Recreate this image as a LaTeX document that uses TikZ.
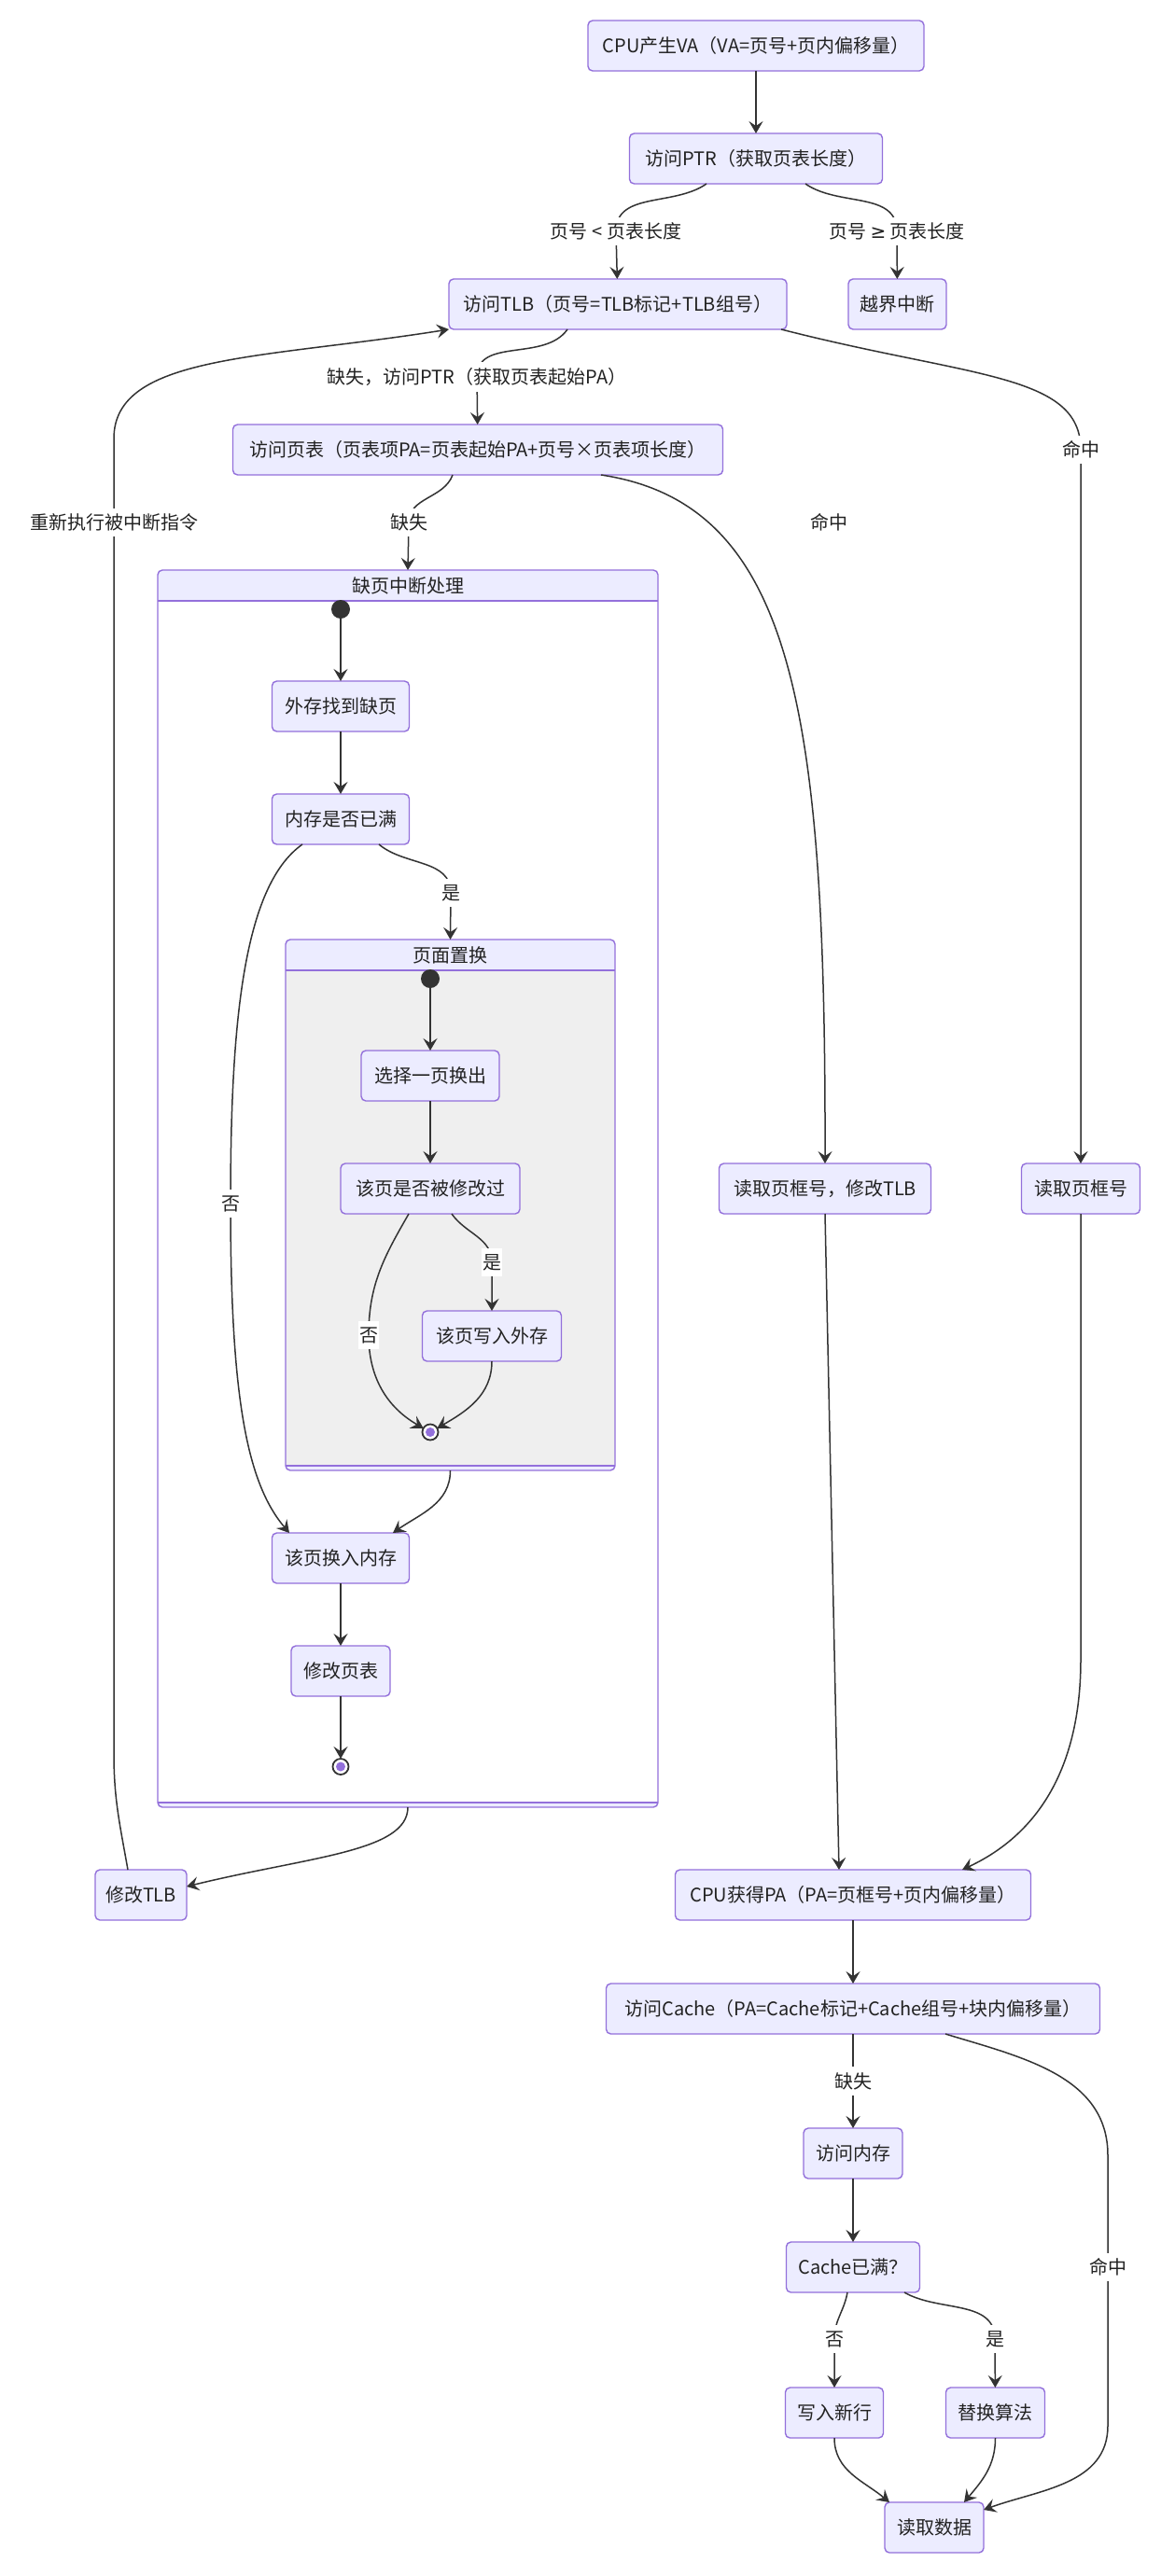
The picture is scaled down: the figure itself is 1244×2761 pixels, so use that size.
\documentclass[tikz,border=0pt]{standalone}
\usepackage{fontspec}
\setmainfont{Noto Sans CJK SC}
\newfontfamily\symfont{DejaVu Sans}
\usepackage{tikz}
\usetikzlibrary{arrows.meta, positioning, calc}
\definecolor{mmfill}{HTML}{ECECFF}
\definecolor{mmline}{HTML}{9370DB}
\definecolor{mmedge}{HTML}{333333}
\definecolor{mmgray}{HTML}{EFEFEF}
\definecolor{mmtext}{HTML}{222222}

\begin{document}
\begin{tikzpicture}[
    x=1pt, y=1pt,
    node distance=67pt and 67pt,
    font=\fontsize{20}{24}\selectfont,
    stbox/.style={rectangle, rounded corners=5pt, draw=mmline, line width=1.4pt, fill=mmfill,
                  text=mmtext, minimum height=54pt, inner xsep=3pt, inner ysep=0pt, outer sep=0pt},
    cluster/.style={rectangle, rounded corners=5pt, inner sep=0pt, outer sep=0pt},
    clline/.style={draw=mmline, line width=1.4pt},
    cltitle/.style={text=mmtext, inner sep=0pt},
    startst/.style={circle, fill=mmedge, minimum size=20pt, inner sep=0pt, outer sep=0pt},
    endst/.style={circle, draw=mmedge, line width=1.8pt, fill=white, minimum size=17pt,
                  inner sep=0pt, outer sep=0pt,
                  path picture={\fill[mmline] (path picture bounding box.center) circle (5pt);}},
    flow/.style={-{Stealth[length=13pt, width=15pt, inset=5pt]}, line width=1.5pt, mmedge},
    lbl/.style={fill=white, text=mmtext, inner xsep=1pt, inner ysep=6pt},
]
    \path[use as bounding box, fill=white] (0,0) rectangle (1244,-2761);

    % composite state: 缺页中断处理
    \node[cluster, fill=white, minimum width=536pt, minimum height=1326pt] (pfh) at (437,-1274) {};
    \begin{scope}
        \clip[rounded corners=5pt] (pfh.north west) rectangle (pfh.south east);
        \fill[mmfill] (pfh.north west) rectangle ([yshift=-33pt]pfh.north east);
        \fill[mmfill] ([yshift=5pt]pfh.south west) rectangle (pfh.south east);
    \end{scope}
    \draw[clline, rounded corners=5pt] (pfh.north west) rectangle (pfh.south east);
    \draw[clline] ([yshift=-33pt]pfh.north west) -- ([yshift=-33pt]pfh.north east);
    \draw[clline] ([yshift=5pt]pfh.south west) -- ([yshift=5pt]pfh.south east);
    \node[cltitle] (pfht) at ([yshift=-16.5pt]pfh.north) {缺页中断处理};

    % nested composite state: 页面置换
    \node[cluster, fill=mmgray, minimum width=353pt, minimum height=569pt] (repl) at (482.5,-1291.5) {};
    \begin{scope}
        \clip[rounded corners=5pt] (repl.north west) rectangle (repl.south east);
        \fill[mmfill] (repl.north west) rectangle ([yshift=-33pt]repl.north east);
        \fill[mmfill] ([yshift=5pt]repl.south west) rectangle (repl.south east);
    \end{scope}
    \draw[clline, rounded corners=5pt] (repl.north west) rectangle (repl.south east);
    \draw[clline] ([yshift=-33pt]repl.north west) -- ([yshift=-33pt]repl.north east);
    \draw[clline] ([yshift=5pt]repl.south west) -- ([yshift=5pt]repl.south east);
    \node[cltitle] (replt) at ([yshift=-16.5pt]repl.north) {页面置换};

    % address translation
    \node[stbox, minimum width=360pt] (cpu) at (810,-49) {CPU产生VA（VA=页号+页内偏移量）};
    \node[stbox, minimum width=271pt, below=of cpu] (ptr) {访问PTR（获取页表长度）};
    \node[stbox, minimum width=362pt] (tlb) at (662,-326) {访问TLB（页号=TLB标记+TLB组号）};
    \node[stbox, minimum width=105pt, right=66pt of tlb] (oob) {越界中断};
    \node[stbox, minimum width=525pt] (pt) at (512,-482) {访问页表（页表项PA=页表起始PA+页号×页表项长度）};

    % page fault handling
    \node[startst] (s1) at (365,-653) {};
    \node[stbox, minimum width=147pt, below=of s1] (find) {外存找到缺页};
    \node[stbox, minimum width=147pt, below=of find] (full) {内存是否已满};
    \node[startst] (s2) at (461,-1049) {};
    \node[stbox, minimum width=148pt, below=of s2] (pick) {选择一页换出};
    \node[stbox, minimum width=192pt, below=of pick] (dirty) {该页是否被修改过};
    \node[stbox, minimum width=149pt] (wb) at (527,-1432) {该页写入外存};
    \node[endst] (e2) at (461,-1535) {};
    \node[stbox, minimum width=147pt] (load) at (365,-1670) {该页换入内存};
    \node[stbox, minimum width=106pt, below=of load] (upd) {修改页表};
    \node[endst, below=of upd] (e1) {};
    \node[stbox, minimum width=98pt] (mtlb) at (151,-2031) {修改TLB};

    % frame number and cache
    \node[stbox, minimum width=227pt] (frtlb) at (884,-1274) {读取页框号，修改TLB};
    \node[stbox, minimum width=127pt, right=97pt of frtlb] (fr) {读取页框号};
    \node[stbox, minimum width=381pt] (pa) at (914,-2031) {CPU获得PA（PA=页框号+页内偏移量）};
    \node[stbox, minimum width=529pt, below=68pt of pa] (cache) {访问Cache（PA=Cache标记+Cache组号+块内偏移量）};
    \node[stbox, minimum width=106pt, below=101pt of cache] (mem) {访问内存};
    \node[stbox, minimum width=143pt, below=68pt of mem] (cfull) {Cache已满？};
    \node[stbox, minimum width=105pt] (wnew) at (894,-2586) {写入新行};
    \node[stbox, minimum width=106pt, right=67pt of wnew] (rep) {替换算法};
    \node[stbox, minimum width=106pt] (read) at (1001,-2709) {读取数据};

    % transitions
    \draw[flow] (cpu) -- (ptr);
    \draw[flow] ([xshift=-53pt]ptr.south) to[out=-145, in=90] (660,-248) node[lbl] (l1) {页号 < 页表长度} -- (tlb);
    \draw[flow] ([xshift=53pt]ptr.south) to[out=-35, in=90] (961,-248) node[lbl] (l2) {页号 {\symfont ≥} 页表长度} -- (oob);
    \draw[flow] ([xshift=-54pt]tlb.south) to[out=-125, in=90] (511,-404) node[lbl] (l3) {缺失，访问PTR（获取页表起始PA）} -- (pt);
    \draw[flow] ([xshift=175pt]tlb.south) .. controls (1040,-405) and (1158,-400) .. (1158,-482) node[lbl] (l4) {命中} -- (fr);
    \draw[flow] ([xshift=-27pt]pt.south) to[out=-110, in=90] (438,-560) node[lbl] (l6) {缺失} -- (pfh.north);
    \draw[flow] ([xshift=132pt]pt.south) .. controls (850,-540) and (885,-760) .. (frtlb.north);
    \node[lbl] (l7) at (888,-560) {命中};

    \draw[flow] (s1) -- (find);
    \draw[flow] (find) -- (full);
    \draw[flow] ([xshift=41pt]full.south) to[out=-40, in=90] (483,-957) node[lbl] (l8) {是} -- (repl.north);
    \draw[flow] ([xshift=-41pt]full.south) .. controls (260,-950) and (247,-1100) .. (247,-1290) node[lbl] (l9) {否}
        .. controls (247,-1500) and (265,-1590) .. ([xshift=-55pt]load.north);
    \draw[flow] (s2) -- (pick);
    \draw[flow] (pick) -- (dirty);
    \draw[flow] ([xshift=23pt]dirty.south) to[out=-55, in=90] (527,-1353) node[lbl] (l10) {是} -- (wb);
    \draw[flow] ([xshift=-23pt]dirty.south) to[out=-120, in=90] (395,-1431) node[lbl] (l11) {否} to[out=-90, in=150] (e2);
    \draw[flow] (wb.south) to[out=-90, in=30] (e2);
    \draw[flow] (repl.south) to[out=-90, in=35] ([xshift=56pt]load.north);
    \draw[flow] (load) -- (upd);
    \draw[flow] (upd) -- (e1);
    \draw[flow] (pfh.south) .. controls (437,-1985) and (330,-1990) .. ([yshift=9pt]mtlb.east);
    \draw[flow] ([xshift=-14pt]mtlb.north) to[out=100, in=-90] (122,-1880) -- (122,-560) node[lbl] (l5) {重新执行被中断指令}
        -- (122,-470) .. controls (122,-380) and (280,-385) .. (tlb.south west);

    \draw[flow] (frtlb.south) -- ([xshift=-15pt]pa.north);
    \draw[flow] (fr.south) -- ++(0,-478) to[out=-90, in=25] ([xshift=117pt]pa.north);
    \draw[flow] (pa) -- (cache);
    \draw[flow] (cache) -- node[lbl] (l12) {缺失} (mem);
    \draw[flow] ([xshift=99pt]cache.south) to[out=-17, in=90] (1187,-2310) -- (1187,-2430) node[lbl] (l13) {命中}
        -- (1187,-2600) to[out=-90, in=20] ([yshift=19pt]read.east);
    \draw[flow] (mem) -- (cfull);
    \draw[flow] ([xshift=-6pt]cfull.south) to[out=-100, in=90] (894,-2507) node[lbl] (l14) {否} -- (wnew);
    \draw[flow] ([xshift=55pt]cfull.south) to[out=-30, in=90] (1066,-2507) node[lbl] (l15) {是} -- (rep);
    \draw[flow] (wnew.south) to[out=-90, in=140] ([xshift=-48pt]read.north);
    \draw[flow] (rep.south) to[out=-90, in=50] ([xshift=32pt]read.north);
\end{tikzpicture}
\end{document}
